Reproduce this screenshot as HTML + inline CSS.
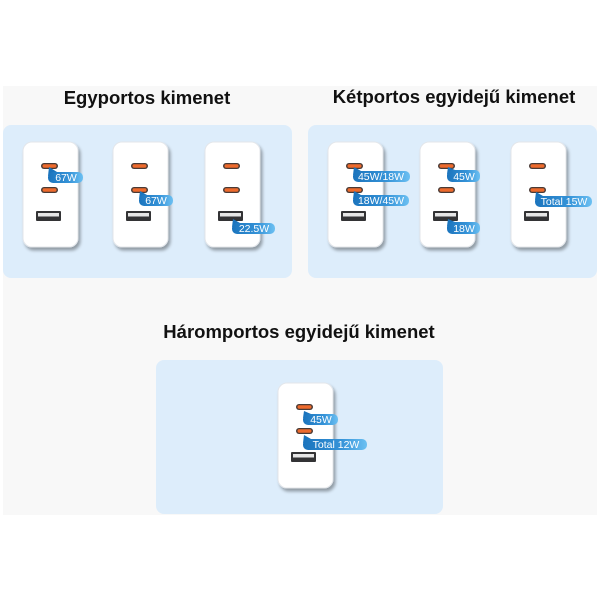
<!DOCTYPE html>
<html><head><meta charset="utf-8"><style>
html,body{margin:0;padding:0;background:#fff;}
svg{display:block;}
</style></head><body>
<svg width="600" height="600" viewBox="0 0 600 600" xmlns="http://www.w3.org/2000/svg">
<defs>
<linearGradient id="lg" x1="0" y1="0" x2="1" y2="0">
<stop offset="0" stop-color="#1b74bd"/>
<stop offset="0.6" stop-color="#3593d8"/>
<stop offset="1" stop-color="#6cc0f2"/>
</linearGradient>
<filter id="sh" x="-20%" y="-20%" width="150%" height="150%">
<feGaussianBlur in="SourceAlpha" stdDeviation="1.5"/>
<feOffset dx="2" dy="3"/>
<feComponentTransfer><feFuncA type="linear" slope="0.35"/></feComponentTransfer>
<feMerge><feMergeNode/><feMergeNode in="SourceGraphic"/></feMerge>
</filter>
<g id="chg">
<rect x="0" y="0" width="55" height="105" rx="9" fill="#ffffff" stroke="#e3e6ea" stroke-width="1" filter="url(#sh)"/>
<rect x="18" y="21" width="17" height="6" rx="3" fill="#4a3a35"/>
<rect x="19.5" y="22.3" width="14" height="3.4" rx="1.7" fill="#ee6a2c"/>
<rect x="18" y="45" width="17" height="6" rx="3" fill="#4a3a35"/>
<rect x="19.5" y="46.3" width="14" height="3.4" rx="1.7" fill="#ee6a2c"/>
<rect x="13" y="69" width="25" height="10" rx="1" fill="#333335"/>
<rect x="15" y="71" width="21" height="3.5" fill="#e6e6e6"/>
</g>
</defs>

<!-- gray backdrop -->
<rect x="3" y="86" width="594" height="429" fill="#f8f8f8"/>

<!-- titles -->
<g font-family="Liberation Sans, Arial, sans-serif" font-weight="bold" font-size="18.5" fill="#111" text-anchor="middle">
<text x="147" y="104">Egyportos kimenet</text>
<text x="454" y="103">Kétportos egyidejű kimenet</text>
<text x="299" y="338">Háromportos egyidejű kimenet</text>
</g>

<!-- panels -->
<rect x="3" y="125" width="289" height="153" rx="8" fill="#ddedfb"/>
<rect x="308" y="125" width="289" height="153" rx="8" fill="#ddedfb"/>
<rect x="156" y="360" width="287" height="154" rx="8" fill="#ddedfb"/>

<!-- chargers -->
<use href="#chg" x="23" y="142"/>
<use href="#chg" x="113" y="142"/>
<use href="#chg" x="205" y="142"/>
<use href="#chg" x="328" y="142"/>
<use href="#chg" x="420" y="142"/>
<use href="#chg" x="511" y="142"/>
<use href="#chg" x="278" y="383"/>

<!-- labels -->
<g font-family="Liberation Sans, Arial, sans-serif" font-size="10.5" fill="#fff" text-anchor="middle">
<polygon points="48,176 49,167 57,172" fill="#1b74bd"/>
<rect x="48" y="172" width="35" height="11" rx="5" fill="url(#lg)"/>
<text x="66" y="181">67W</text>

<polygon points="139,199 140,191 147,195" fill="#1b74bd"/>
<rect x="139" y="195" width="34" height="11" rx="5" fill="url(#lg)"/>
<text x="156" y="204">67W</text>

<polygon points="232,227 233,219 240,223" fill="#1b74bd"/>
<rect x="232" y="223" width="43" height="11" rx="5" fill="url(#lg)"/>
<text x="254" y="232">22.5W</text>

<polygon points="353,175 354,167 361,171" fill="#1b74bd"/>
<rect x="353" y="171" width="57" height="11" rx="5" fill="url(#lg)"/>
<text x="381" y="180">45W/18W</text>

<polygon points="353,199 354,191 361,195" fill="#1b74bd"/>
<rect x="353" y="195" width="56" height="11" rx="5" fill="url(#lg)"/>
<text x="381" y="204">18W/45W</text>

<polygon points="447,174 448,167 455,170" fill="#1b74bd"/>
<rect x="447" y="170" width="33" height="12" rx="5" fill="url(#lg)"/>
<text x="464" y="180">45W</text>

<polygon points="447,226 448,219 455,222" fill="#1b74bd"/>
<rect x="447" y="222" width="33" height="12" rx="5" fill="url(#lg)"/>
<text x="464" y="232">18W</text>

<polygon points="535,200 536,192 543,196" fill="#1b74bd"/>
<rect x="535" y="196" width="57" height="11" rx="5" fill="url(#lg)"/>
<text x="564" y="205">Total 15W</text>

<polygon points="303,418 304,411 311,414" fill="#1b74bd"/>
<rect x="303" y="414" width="35" height="11" rx="5" fill="url(#lg)"/>
<text x="321" y="423">45W</text>

<polygon points="303,443 304,435 311,439" fill="#1b74bd"/>
<rect x="303" y="439" width="64" height="11" rx="5" fill="url(#lg)"/>
<text x="336" y="448">Total 12W</text>
</g>
</svg>
</body></html>
